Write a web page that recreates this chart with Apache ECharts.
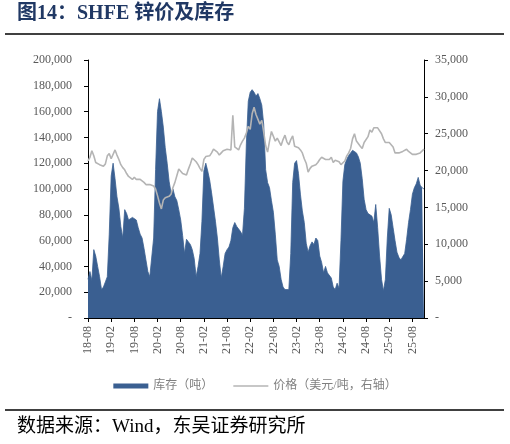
<!DOCTYPE html>
<html>
<head>
<meta charset="utf-8">
<script src="https://cdn.jsdelivr.net/npm/echarts@6/dist/echarts.min.js"></script>
<style>
html,body{margin:0;padding:0;background:#fff;}
#c{width:510px;height:444px;}
</style>
</head>
<body>
<div id="c"></div>
<script>
// Inventory (tons), semi-monthly from 2018-08
const inventory = [
30000, 36000, 29000, 53000, 48000, 40000, 32000, 22000, 24000, 28000,
32000, 65000, 110000, 120000, 108000, 94000, 85000, 71000, 62000, 84000,
81000, 76000, 75000, 78000, 79000, 76000, 70000, 65000, 62000, 54000,
45000, 36000, 32000, 31000, 62000, 115000, 160000, 170000, 160000, 148000,
132000, 120000, 106000, 97000,
100000, 94000, 91000, 84000, 76000, 64000, 50000, 61000, 59000, 57000,
53000, 46000, 32000, 40000, 50000, 75000, 114000, 120000, 114000, 107000,
97000, 86000, 75000, 62000, 45000, 31000, 40000, 50000, 53000, 55000,
60000, 70000, 74000, 71000, 71000, 67000, 64000, 85000, 135000, 168000,
175000, 177000, 175000, 172000,
174000, 170000, 165000, 150000, 115000, 105000, 101000, 91000, 82000, 65000,
45000, 40000, 30000, 24000, 22000, 21000, 22000, 50000, 105000, 120000,
122000, 112000, 96000, 83000, 74000, 58000, 51000, 56000, 59000, 57000,
62000, 60000, 48000, 43000, 35000, 40000, 35000, 34000, 31000, 24000,
22000, 27000, 23000,
60000, 106000, 119000, 123000, 126000, 128000, 130000, 130000, 128000, 125000,
120000, 108000, 92000, 84000, 81000, 80000, 79000, 74000, 88000, 70000,
48000, 30000, 21000, 30000, 62000, 85000, 80000, 70000, 60000, 51000,
47000, 45000, 45000, 50000, 61000, 74000, 84000, 96000, 101000, 104000,
109000, 103000, 101000, 100000
];
// Price (right axis)
const price = [
21300, 21800, 22700, 22000, 21100, 21300, 20800, 20600, 20600, 20900,
22000, 22300, 21600, 21600, 22800, 22100, 21500, 20800, 20400, 20100,
19600, 19200, 19300, 18800, 19100, 18800, 19000, 18800, 18600, 18400,
18100, 17900, 18100, 18000, 17900, 17500, 16600, 15600, 14800, 16000,
16300, 16400, 16500, 16800,
17700, 18400, 19300, 20200, 20200, 19600, 19600, 19400, 20200, 20900,
21700, 21800, 21200, 20800, 20300, 19900, 21500, 21900, 22000, 22000,
22400, 22900, 23100, 22500, 22100, 22400, 22700, 22900, 22900, 23000,
22800, 27500, 23200, 23300, 22800, 23500, 24000, 24400, 25100, 26000,
25600, 27700, 28600, 27600,
27500, 26300, 26800, 25200, 23400, 22500, 24000, 25300, 25200, 24000,
24400, 24200, 23400, 24200, 24800, 23900, 23500, 24200, 24700, 23300,
23100, 23100, 22800, 22400, 21600, 21000, 19800, 20300, 20600, 20400,
20800, 21100, 21500, 21800, 21800, 21500, 21300, 21500, 21800, 21100,
21400, 21500, 21200,
20800, 20700, 21300, 22000, 22400, 23000, 24300, 25000, 24000, 24200,
23300, 23000, 23800, 24000, 24600, 25500, 25200, 25800, 25600, 25800,
25600, 25000, 24300, 23800, 24000, 23800, 24000, 23200, 22400, 22600,
22400, 22200, 22600, 22400, 22900, 22600, 22400, 22200, 22400, 22200,
22100, 22400, 22600, 22900
];
// Categories: semi-monthly dates starting 2018-08
const categories = [];
for (let i = 0; i < inventory.length; i++) {
  const mIdx = 7 + Math.floor(i / 2);
  const yr = 2018 + Math.floor(mIdx / 12);
  const mo = (mIdx % 12) + 1;
  categories.push(yr + '-' + String(mo).padStart(2, '0') + '-' + (i % 2 ? '16' : '01'));
}
const tickMonths = ['02', '08'];
const leftTicks = {min: 0, max: 200000, interval: 20000};
const rightTicks = {min: 0, max: 35000, interval: 5000};
const seriesNames = ['库存（吨）', '价格（美元/吨，右轴）'];

const showTick = (idx, val) => {
  const p = val.split('-');
  return p[2] === '01' && tickMonths.indexOf(p[1]) >= 0;
};
const fmtNum = v => v === 0 ? '-' : v.toLocaleString('en-US');
const serif = '"Liberation Serif","Noto Sans CJK SC"';

const chart = echarts.init(document.getElementById('c'), null, {renderer: 'canvas'});
chart.setOption({
  animation: false,
  backgroundColor: '#fff',
  grid: {left: 88, right: 86, top: 60, bottom: 126, containLabel: false},
  graphic: [
    {type: 'text', left: 17, top: 4, style: {text: '图14：SHFE 锌价及库存', font: 'bold 20px ' + serif, fill: '#203864'}},
    {type: 'line', shape: {x1: 5, y1: 34, x2: 504, y2: 34}, style: {stroke: '#000', lineWidth: 1.5}},
    {type: 'line', shape: {x1: 5, y1: 410, x2: 504, y2: 410}, style: {stroke: '#000', lineWidth: 1.5}},
    {type: 'text', left: 17, top: 418, style: {text: '数据来源：Wind，东吴证券研究所', font: '19px ' + serif, fill: '#000'}}
  ],
  legend: {
    left: 'center', top: 375, itemWidth: 35, itemHeight: 5, itemGap: 20,
    textStyle: {color: '#7f7f7f', fontSize: 12, fontFamily: serif},
    data: [
      {name: seriesNames[0], icon: 'rect'},
      {name: seriesNames[1], icon: 'path://M0 0 H35 V1.6 H0 Z'}
    ]
  },
  xAxis: {
    type: 'category', data: categories, boundaryGap: false,
    axisLine: {lineStyle: {color: '#000', width: 1}},
    axisTick: {interval: showTick, length: 4, lineStyle: {color: '#000'}},
    axisLabel: {
      interval: showTick, rotate: 90, margin: 8, color: '#595959', fontSize: 12, fontFamily: serif,
      formatter: v => v.slice(2, 7)
    },
    splitLine: {show: false}
  },
  yAxis: [
    {
      type: 'value', min: leftTicks.min, max: leftTicks.max, interval: leftTicks.interval,
      axisLine: {show: true, lineStyle: {color: '#000'}},
      axisTick: {show: true, length: 4, lineStyle: {color: '#000'}},
      axisLabel: {formatter: fmtNum, color: '#595959', fontSize: 12, fontFamily: serif, margin: 16},
      splitLine: {show: false}
    },
    {
      type: 'value', min: rightTicks.min, max: rightTicks.max, interval: rightTicks.interval, position: 'right',
      axisLine: {show: true, lineStyle: {color: '#000'}},
      axisTick: {show: true, length: 4, lineStyle: {color: '#000'}},
      axisLabel: {formatter: fmtNum, color: '#595959', fontSize: 12, fontFamily: serif, margin: 11},
      splitLine: {show: false}
    }
  ],
  series: [
    {
      name: seriesNames[0], type: 'line', yAxisIndex: 0, data: inventory,
      symbol: 'none', showSymbol: false, color: '#3a5f91',
      lineStyle: {color: '#3a5f91', width: 0.8},
      areaStyle: {color: '#3a5f91', opacity: 1}
    },
    {
      name: seriesNames[1], type: 'line', yAxisIndex: 1, data: price,
      symbol: 'none', showSymbol: false, color: '#b4b4b4',
      lineStyle: {color: '#b4b4b4', width: 1.6}
    }
  ]
});
</script>
</body>
</html>
